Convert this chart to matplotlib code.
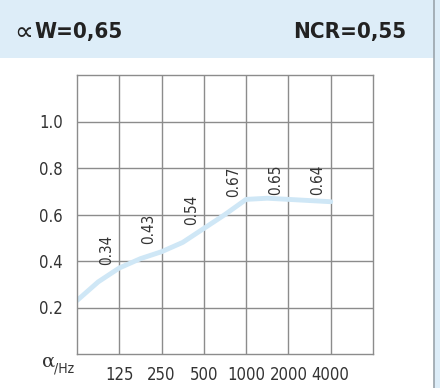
import numpy as np
import matplotlib.pyplot as plt
from matplotlib import font_manager
from matplotlib.patches import Rectangle

# Frequency bands and measured absorption values
bands = ["125", "250", "500", "1000", "2000", "4000"]
alpha = [0.34, 0.43, 0.54, 0.67, 0.65, 0.64]

# Curve as drawn in the chart (column units)
curve_x = [0.0, 0.5, 1.0, 1.5, 2.0, 2.5, 3.0, 3.5, 4.0, 4.5, 5.0, 5.5, 6.0]
curve_y = [0.23, 0.31, 0.37, 0.41, 0.44, 0.48, 0.54, 0.60, 0.665, 0.67, 0.665, 0.66, 0.655]

y_ticks = [0.2, 0.4, 0.6, 0.8, 1.0]

header_left = "W=0,65"
header_right = "NCR=0,55"

band_blue = "#ddedf8"


# look for a narrow / condensed face, the original uses one
def find_narrow(bold=False):
    for f in font_manager.fontManager.ttflist:
        name = f.name.lower()
        narrow = ("narrow" in name or "condensed" in name
                  or str(f.stretch) in ("condensed", "semi-condensed", "extra-condensed"))
        is_bold = f.weight in ("bold", 700, "semibold", 600)
        if narrow and is_bold == bold and f.style == "normal":
            return font_manager.FontProperties(fname=f.fname)
    return None


thin = find_narrow(False)
heavy = find_narrow(True)
found = thin is not None
if thin is None:
    thin = font_manager.FontProperties(family="DejaVu Sans")
if heavy is None:
    heavy = font_manager.FontProperties(family="DejaVu Sans", weight="bold")

fig = plt.figure(figsize=(4.4, 3.88), dpi=100)
fig.patch.set_facecolor("white")

# header band and right margin
fig.patches.append(Rectangle((0, 1 - 58 / 388), 1, 58 / 388, transform=fig.transFigure,
                             facecolor=band_blue, edgecolor="none", zorder=0))
fig.patches.append(Rectangle((434 / 440, 0), 6 / 440, 1, transform=fig.transFigure,
                             facecolor=band_blue, edgecolor="none", zorder=0))
fig.add_artist(plt.Line2D([433.5 / 440, 433.5 / 440], [0, 1], transform=fig.transFigure,
                          color="#9aa4ac", lw=1.2))

hsize = 16 if found else 13
fig.text(14 / 440, 1 - 33 / 388, "\u221d", fontsize=19, family="DejaVu Sans",
         color="#222222", va="center", ha="left")
fig.text(34 / 440, 1 - 32 / 388, header_left, fontsize=hsize, fontproperties=heavy,
         color="#222222", va="center", ha="left")
fig.text(406 / 440, 1 - 32 / 388, header_right, fontsize=hsize, fontproperties=heavy,
         color="#222222", va="center", ha="right")

ax = fig.add_axes([77 / 440, 34 / 388, 296 / 440, 279 / 388])
ax.set_xlim(0, 7)
ax.set_ylim(0, 1.2)

# grid
for x in range(1, 7):
    ax.axvline(x, color="#8c8c8c", lw=1.0, zorder=1)
for y in y_ticks:
    ax.axhline(y, color="#8c8c8c", lw=1.0, zorder=1)
for s in ax.spines.values():
    s.set_color("#8c8c8c")
    s.set_linewidth(1.0)

ax.plot(curve_x, curve_y, color="#cfe7f6", lw=3.5, solid_capstyle="round", zorder=2)

# value labels sit just above the curve, left of each grid line
tsize = 12 if found else 9.5
lab_x = np.arange(1, 7) - 0.3
lab_y = np.minimum(np.interp(lab_x, curve_x, curve_y) + 0.05, 0.685)
for xx, yy, v in zip(lab_x, lab_y, alpha):
    t = ax.text(xx, yy, f"{v:.2f}", rotation=90, ha="center", va="bottom",
                color="#333333", zorder=3, fontproperties=thin)
    t.set_fontsize(tsize - 1)

ax.set_yticks(y_ticks)
ax.set_yticklabels([f"{t:.1f}" for t in y_ticks], fontproperties=thin, color="#333333")
ax.set_xticks(range(1, 7))
ax.set_xticklabels(bands, fontproperties=thin, color="#333333")
for lab in ax.get_xticklabels() + ax.get_yticklabels():
    lab.set_fontsize(tsize)
ax.tick_params(axis="y", length=0, pad=10)
ax.tick_params(axis="x", length=0, pad=9)

fig.text(42 / 440, 1 - 362 / 388, "\u03b1", fontsize=14, family="DejaVu Serif",
         color="#333333", va="center", ha="left")
fig.text(54 / 440, 1 - 368 / 388, "/Hz", fontsize=10, fontproperties=thin,
         color="#333333", va="center", ha="left")

fig.savefig("out.png", dpi=100)
